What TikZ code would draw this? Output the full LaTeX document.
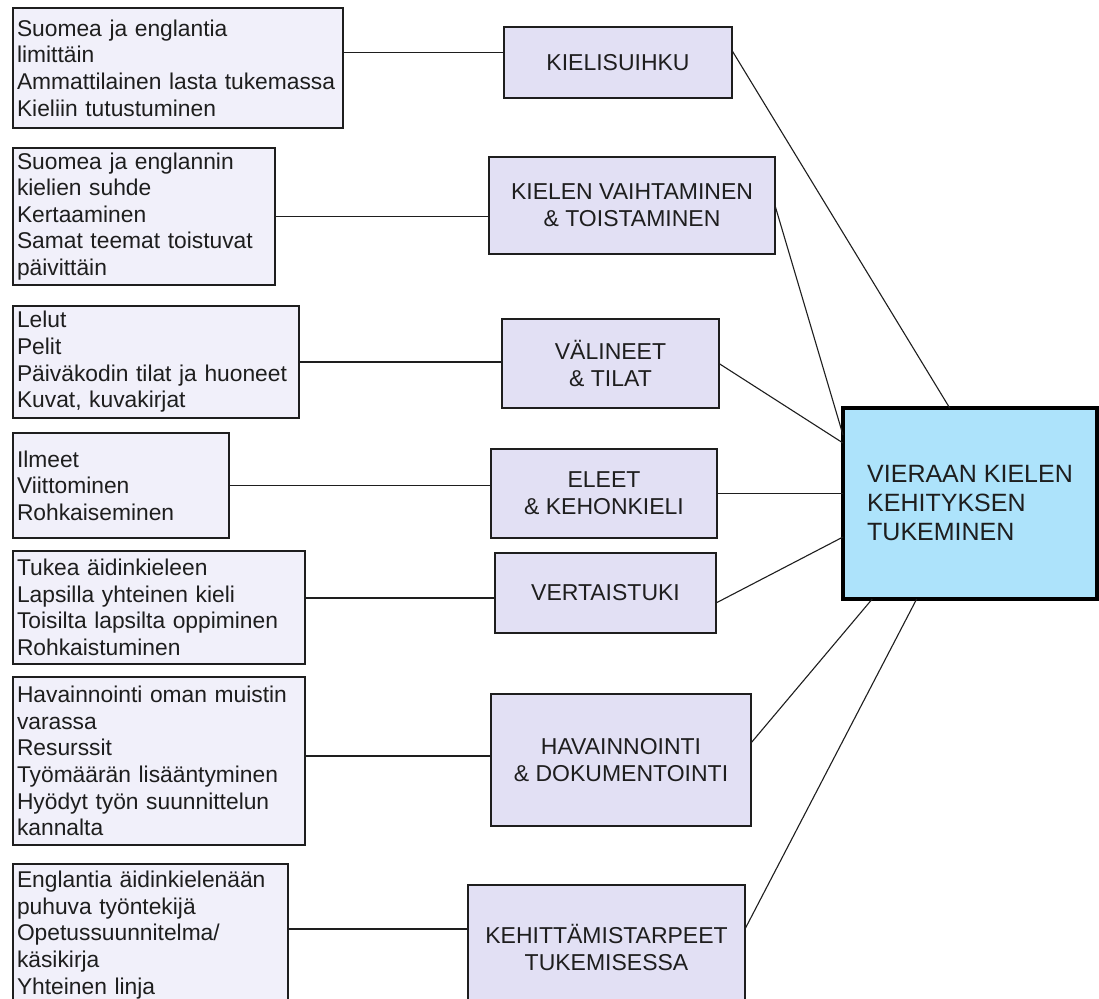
\documentclass[tikz,border=0pt]{standalone}
\usepackage{fontspec}
\setmainfont{Liberation Sans}
\usepackage{tikz}
\usetikzlibrary{calc}
\definecolor{Ink}{HTML}{1E1E1E}
\definecolor{ItemFill}{HTML}{F1F0FA}
\definecolor{TopicFill}{HTML}{E2E0F4}
\definecolor{HubFill}{HTML}{ADE3FB}

\begin{document}
\begin{tikzpicture}[x=1pt,y=-1pt,
  item/.style={draw=Ink,line width=1.4pt,fill=ItemFill,anchor=north west,outer sep=0pt,
    align=left,inner xsep=4pt,inner ysep=2pt,text=Ink,font=\fontsize{22.8}{26.6}\selectfont},
  topic/.style={draw=Ink,line width=1.4pt,fill=TopicFill,anchor=north west,outer sep=0pt,
    align=center,text=Ink,font=\fontsize{23}{27}\selectfont},
  link/.style={draw=Ink,line width=1.1pt}]
  \path[use as bounding box,fill=white] (0,0) rectangle (1099,998);
  \clip (0,0) rectangle (1099,998);

  \node[item,text width=322pt,minimum height=120pt] (l1) at (13,8)
    {Suomea ja englantia\\limittäin\\Ammattilainen lasta tukemassa\\Kieliin tutustuminen};
  \node[item,text width=254pt,minimum height=137pt] (l2) at (13,148)
    {Suomea ja englannin\\kielien suhde\\Kertaaminen\\Samat teemat toistuvat\\päivittäin};
  \node[item,text width=278pt,minimum height=112pt] (l3) at (13,306)
    {Lelut\\Pelit\\Päiväkodin tilat ja huoneet\\Kuvat, kuvakirjat};
  \node[item,text width=208pt,minimum height=105pt] (l4) at (13,433)
    {Ilmeet\\Viittominen\\Rohkaiseminen};
  \node[item,text width=284pt,minimum height=113pt] (l5) at (13,551)
    {Tukea äidinkieleen\\Lapsilla yhteinen kieli\\Toisilta lapsilta oppiminen\\Rohkaistuminen};
  \node[item,text width=284pt,minimum height=168pt] (l6) at (13,677)
    {Havainnointi oman muistin\\varassa\\Resurssit\\Työmäärän lisääntyminen\\Hyödyt työn suunnittelun\\kannalta};
  \node[item,text width=267pt,minimum height=142pt] (l7) at (13,864)
    {Englantia äidinkielenään\\puhuva työntekijä\\Opetussuunnitelma/\\käsikirja\\Yhteinen linja};

  \node[topic,minimum width=228pt,minimum height=71pt] (ks) at (504,27) {KIELISUIHKU};
  \node[topic,minimum width=286pt,minimum height=97pt] (kv) at (489,157) {KIELEN VAIHTAMINEN\\\& TOISTAMINEN};
  \node[topic,minimum width=217pt,minimum height=89pt] (vt) at (502,319) {VÄLINEET\\\& TILAT};
  \node[topic,minimum width=226pt,minimum height=89pt] (el) at (491,449) {ELEET\\\& KEHONKIELI};
  \node[topic,minimum width=221pt,minimum height=80pt] (vs) at (495,553) {VERTAISTUKI};
  \node[topic,minimum width=260pt,minimum height=132pt] (hd) at (491,694) {HAVAINNOINTI\\\& DOKUMENTOINTI};
  \node[topic,minimum width=277pt,minimum height=124pt] (kt) at (468,885) {KEHITTÄMISTARPEET\\TUKEMISESSA};

  \node[draw=black,line width=4pt,fill=HubFill,anchor=north west,outer sep=0pt,
    minimum width=254pt,minimum height=191pt,align=left,text=Ink,
    font=\fontsize{25}{29}\selectfont] (hub) at (843,408)
    {VIERAAN KIELEN\\KEHITYKSEN\\TUKEMINEN};

  \coordinate (ksin) at ([yshift=10pt]ks.west);
  \coordinate (vsin) at ([yshift=-5pt]vs.west);
  \coordinate (hdin) at ([yshift=4pt]hd.west);
  \coordinate (ktin) at ([yshift=18pt]kt.west);
  \draw[link] (ksin) -- (ksin -| l1.east);
  \draw[link] (l2.east) -- (l2.east -| kv.west);
  \draw[link] (l3.east) -- (l3.east -| vt.west);
  \draw[link] (l4.east) -- (l4.east -| el.west);
  \draw[link] (vsin) -- (vsin -| l5.east);
  \draw[link] (hdin) -- (hdin -| l6.east);
  \draw[link] (ktin) -- (ktin -| l7.east);

  \draw[link] ([yshift=12pt]ks.east) -- ($(hub.north west)!0.42!(hub.north east)$);
  \draw[link] (kv.east) -- ([yshift=-27pt]hub.north west);
  \draw[link] (vt.east) -- ([yshift=-35pt]hub.north west);
  \draw[link] (el.east) -- (el.east -| hub.west);
  \draw[link] ([yshift=-10pt]vs.east) -- ([yshift=-129pt]hub.north west);
  \draw[link] ([yshift=17pt]hd.east) -- ($(hub.south west)!0.115!(hub.south east)$);
  \draw[link] ([yshift=18pt]kt.east) -- ($(hub.south west)!0.29!(hub.south east)$);
\end{tikzpicture}
\end{document}
